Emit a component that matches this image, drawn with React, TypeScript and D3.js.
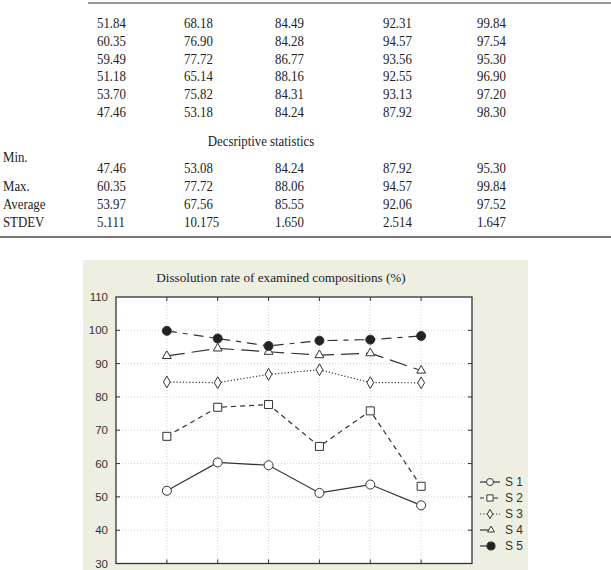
import { line, scaleLinear, symbol, symbolCircle, symbolDiamond, symbolSquare, symbolTriangle } from 'd3';
import React from 'react';

const samples = [1, 2, 3, 4, 5, 6];
const s1 = [51.84, 60.35, 59.49, 51.18, 53.7, 47.46];
const s2 = [68.18, 76.9, 77.72, 65.14, 75.82, 53.18];
const s3 = [84.49, 84.28, 86.77, 88.16, 84.31, 84.24];
const s4 = [92.31, 94.57, 93.56, 92.55, 93.13, 87.92];
const s5 = [99.84, 97.54, 95.3, 96.9, 97.2, 98.3];

const statLabels = ['Min.', 'Max.', 'Average', 'STDEV'];
const statMin = ['47.46', '53.08', '84.24', '87.92', '95.30'];
const statMax = ['60.35', '77.72', '88.06', '94.57', '99.84'];
const statAvg = ['53.97', '67.56', '85.55', '92.06', '97.52'];
const statSd = ['5.111', '10.175', '1.650', '2.514', '1.647'];

const yTicks = [30, 40, 50, 60, 70, 80, 90, 100, 110];
const seriesNames = ['S 1', 'S 2', 'S 3', 'S 4', 'S 5'];

const W = 611;
const H = 570;
const ink = '#333';
const colX = [97, 184, 275, 383, 477];
const serif = "'Liberation Serif', 'Times New Roman', serif";
const sans = "'Liberation Sans', Arial, sans-serif";

const series = [
  { name: seriesNames[0], values: s1, dash: 'none', legendDash: 'none', shape: symbolCircle, size: 64, fill: '#fff' },
  { name: seriesNames[1], values: s2, dash: '5,4', legendDash: '4,3', shape: symbolSquare, size: 64, fill: '#fff' },
  { name: seriesNames[2], values: s3, dash: '1.2,2', legendDash: '1.2,2', shape: symbolDiamond, size: 40, fill: '#fff' },
  { name: seriesNames[3], values: s4, dash: '18,7', legendDash: 'none', shape: symbolTriangle, size: 34, fill: '#fff' },
  { name: seriesNames[4], values: s5, dash: '10,6,5,6', legendDash: 'none', shape: symbolCircle, size: 64, fill: '#222' },
];

// table text in the scan is a bit taller than wide
const Cell = ({ x, y, children, anchor = 'start' }: { x: number; y: number; children: React.ReactNode; anchor?: string }) => (
  <text transform={`translate(${x},${y}) scale(0.95,1.1)`} textAnchor={anchor}>
    {children}
  </text>
);

const App = () => {
  const dataRowY = scaleLinear().domain([0, 5]).range([28, 117]);
  const statRowY = scaleLinear().domain([1, 3]).range([191, 227]);

  const x = scaleLinear().domain([0, 7]).range([116, 472]);
  const y = scaleLinear().domain([30, 110]).range([563.5, 297]);
  const lineGen = line<number>()
    .x((_, i) => x(samples[i]))
    .y((d) => y(d));

  const cols = [s1, s2, s3, s4, s5];
  const statRows = [statMin, statMax, statAvg, statSd];

  return (
    <svg width={W} height={H} style={{ position: 'absolute', left: 0, top: 0 }}>
      <rect width={W} height={H} fill="#fff" />
      {/* table */}
      <line x1={88} x2={W} y1={3} y2={3} stroke="#777" strokeWidth={1.5} />
      <g fontFamily={serif} fontSize={13.5} fill="#222">
        {cols.map((c, ci) =>
          c.map((v, ri) => (
            <Cell key={`d${ci}-${ri}`} x={colX[ci]} y={dataRowY(ri)}>
              {v.toFixed(2)}
            </Cell>
          ))
        )}
        <Cell x={261} y={146} anchor="middle">
          Decsriptive statistics
        </Cell>
        {statLabels.map((l, i) => (
          <Cell key={l} x={3} y={i === 0 ? 162 : statRowY(i)}>
            {l}
          </Cell>
        ))}
        {statRows.map((row, ri) =>
          row.map((v, ci) => (
            <Cell key={`s${ri}-${ci}`} x={colX[ci]} y={ri === 0 ? 173 : statRowY(ri)}>
              {v}
            </Cell>
          ))
        )}
      </g>
      <line x1={0} x2={W} y1={237} y2={237} stroke="#777" strokeWidth={2} />

      {/* chart panel */}
      <rect x={83} y={260} width={445} height={310} fill="#efeee3" />
      <rect x={x(0)} y={y(110)} width={x(7) - x(0)} height={y(30) - y(110)} fill="#fff" />
      <text x={281} y={282} textAnchor="middle" fontFamily={serif} fontSize={13.2} fill="#222">
        Dissolution rate of examined compositions (%)
      </text>
      <g stroke="#c8c8c8" strokeWidth={0.8} strokeDasharray="1,2">
        {yTicks.slice(1, -1).map((t) => (
          <line key={`gy${t}`} x1={x(0)} x2={x(7)} y1={y(t)} y2={y(t)} />
        ))}
        {samples.map((s) => (
          <line key={`gx${s}`} x1={x(s)} x2={x(s)} y1={y(110)} y2={y(30)} />
        ))}
      </g>
      <g stroke={ink} strokeWidth={1}>
        {yTicks.slice(1, -1).map((t) => (
          <g key={`ty${t}`}>
            <line x1={x(0)} x2={x(0) + 4} y1={y(t)} y2={y(t)} />
            <line x1={x(7)} x2={x(7) - 4} y1={y(t)} y2={y(t)} />
          </g>
        ))}
        {samples.map((s) => (
          <g key={`tx${s}`}>
            <line x1={x(s)} x2={x(s)} y1={y(30)} y2={y(30) - 4} />
            <line x1={x(s)} x2={x(s)} y1={y(110)} y2={y(110) + 4} />
          </g>
        ))}
      </g>
      <rect
        x={x(0)}
        y={y(110)}
        width={x(7) - x(0)}
        height={y(30) - y(110)}
        fill="none"
        stroke={ink}
        strokeWidth={1.3}
      />
      <g fontFamily={sans} fontSize={11.5} fill="#333" textAnchor="end">
        {yTicks.map((t) => (
          <text key={`ly${t}`} x={108} y={y(t)} dy="0.36em">
            {t}
          </text>
        ))}
      </g>

      {/* series */}
      {series.map((s) => (
        <g key={s.name}>
          <path d={lineGen(s.values) ?? ''} fill="none" stroke={ink} strokeWidth={1.2} strokeDasharray={s.dash} />
          {s.values.map((v, i) => (
            <path
              key={i}
              transform={`translate(${x(samples[i])},${y(v)})`}
              d={symbol(s.shape, s.size)() ?? ''}
              fill={s.fill}
              stroke={ink}
              strokeWidth={1}
            />
          ))}
        </g>
      ))}

      {/* legend */}
      {series.map((s, i) => {
        const ly = 482 + i * 16;
        const full = i < 3;
        const mx = full ? 490 : 491;
        return (
          <g key={`lg${s.name}`}>
            <line
              x1={480}
              x2={full ? 500 : 489}
              y1={ly}
              y2={ly}
              stroke={ink}
              strokeWidth={1.2}
              strokeDasharray={s.legendDash}
            />
            <path
              transform={`translate(${mx},${ly})`}
              d={symbol(s.shape, s.size * (i === 4 ? 0.8 : 0.6))() ?? ''}
              fill={s.fill}
              stroke={ink}
              strokeWidth={1}
            />
            <text x={505} y={ly} dy="0.36em" fontFamily={sans} fontSize={12} fill="#333">
              {s.name}
            </text>
          </g>
        );
      })}
    </svg>
  );
};

export default App;
